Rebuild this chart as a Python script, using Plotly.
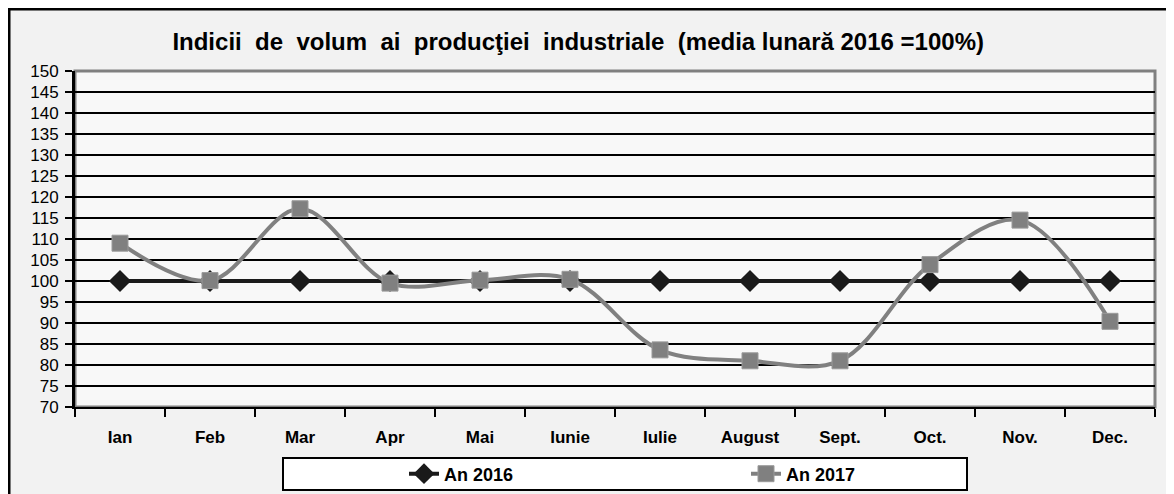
import plotly.graph_objects as go

# Date
luni = ['Ian', 'Feb', 'Mar', 'Apr', 'Mai', 'Iunie', 'Iulie', 'August', 'Sept.', 'Oct.', 'Nov.', 'Dec.']
an_2016 = [100, 100, 100, 100, 100, 100, 100, 100, 100, 100, 100, 100]
an_2017 = [109.0, 100.1, 117.2, 99.5, 100.2, 100.4, 83.6, 81.0, 81.0, 103.9, 114.5, 90.4]
y_ticks = list(range(70, 151, 5))

FONT = "Liberation Sans Narrow, Arial Narrow, Liberation Sans, Arial, sans-serif"

# pagina are o margine de 8px, deci figura e putin mai mica
W, H = 1166, 486
L, R, T, B = 67, 19, 63, 87
PW, PH = W - L - R, H - T - B


def px(x):
    return (x - L) / PW


def py(y):
    return (H - B - y) / PH


fig = go.Figure()

fig.add_trace(go.Scatter(
    x=luni, y=an_2016,
    mode='lines+markers',
    name='An 2016',
    line=dict(color='#1a1a1a', width=4),
    marker=dict(symbol='diamond', size=17, color='#1a1a1a'),
))

fig.add_trace(go.Scatter(
    x=luni, y=an_2017,
    mode='lines+markers',
    name='An 2017',
    line=dict(color='#808080', width=4, shape='spline', smoothing=1),
    marker=dict(symbol='square', size=16, color='#808080',
                line=dict(color='#9a9a9a', width=1)),
))

fig.update_layout(
    width=W, height=H,
    margin=dict(l=L, r=R, t=T, b=B, autoexpand=False),
    paper_bgcolor='white',
    plot_bgcolor='rgba(0,0,0,0)',
    font=dict(family=FONT, color='black'),
    title=dict(
        text='Indicii\u00a0 de\u00a0 volum\u00a0 ai\u00a0 producţiei\u00a0 industriale\u00a0 (media lunară 2016 =100%)',
        x=0.489, xanchor='center', y=0.930, yanchor='middle',
        font=dict(family=FONT, size=24, weight='bold', color='black'),
    ),
    showlegend=True,
    legend=dict(
        orientation='h',
        x=px(396), xanchor='left', y=py(466), yanchor='middle',
        bgcolor='rgba(0,0,0,0)', borderwidth=0,
        entrywidth=297, entrywidthmode='pixels',
        font=dict(family=FONT, size=18, weight='bold'),
    ),
    shapes=[
        # cadrul exterior
        dict(type='rect', xref='paper', yref='paper', layer='below',
             x0=px(1), x1=px(W + 40), y0=py(H + 40), y1=py(1),
             fillcolor='#f2f2f2', line=dict(color='black', width=3)),
        # zona graficului
        dict(type='rect', xref='paper', yref='paper', layer='below',
             x0=0, x1=1, y0=0, y1=1,
             fillcolor='#f8f8f8', line=dict(color='#808080', width=3)),
        # caseta legendei
        dict(type='rect', xref='paper', yref='paper', layer='below',
             x0=px(275), x1=px(959), y0=py(482), y1=py(450),
             fillcolor='white', line=dict(color='black', width=2)),
    ],
)

fig.update_xaxes(
    type='category',
    range=[-0.5, len(luni) - 0.5],
    tickson='boundaries',
    ticks='outside', ticklen=8, tickwidth=2, tickcolor='black',
    showline=True, linecolor='black', linewidth=2,
    showgrid=False, automargin=False,
    tickfont=dict(family=FONT, size=17, weight='bold'),
    ticklabelstandoff=14,
)

fig.update_yaxes(
    range=[70, 150],
    tickvals=y_ticks,
    ticks='outside', ticklen=7, tickwidth=2, tickcolor='black',
    showline=True, linecolor='black', linewidth=3,
    showgrid=True, gridcolor='black', gridwidth=2,
    zeroline=False, automargin=False,
    tickfont=dict(family=FONT, size=17),
    ticklabelstandoff=3,
)

fig.write_html("out.html")
